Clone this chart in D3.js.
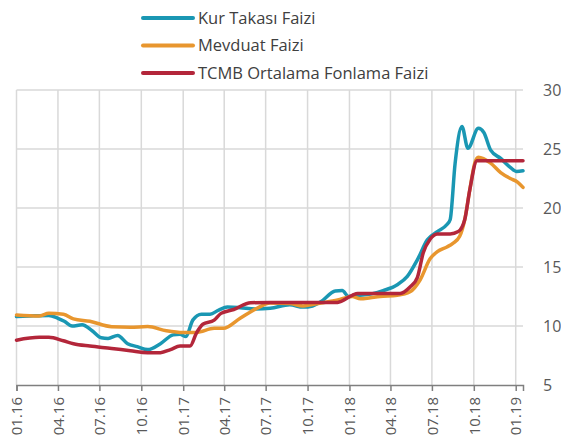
<!DOCTYPE html>
<html><head><meta charset="utf-8">
<script src="https://cdn.jsdelivr.net/npm/d3@7"></script>
<style>body{margin:0;background:#fff}svg{display:block}text{font-family:"Open Sans",sans-serif}</style>
</head><body>
<svg id="c" width="561" height="447"></svg>
<script>
const seriesNames = ["Kur Takası Faizi", "Mevduat Faizi", "TCMB Ortalama Fonlama Faizi"];
const seriesColors = ["#1a97b3", "#e8962e", "#b3263a"];
const yTicks = [5, 10, 15, 20, 25, 30];
const xTickLabels = ["01.16","04.16","07.16","10.16","01.17","04.17","07.17","10.17","01.18","04.18","07.18","10.18","01.19"];

const kurTakasi = [
["2016-01-01",10.8],["2016-01-30",10.85],["2016-03-12",10.9],["2016-04-01",10.65],["2016-04-15",10.4],
["2016-05-02",10.0],["2016-05-24",10.1],["2016-06-15",9.6],["2016-07-05",9.0],["2016-07-20",8.95],
["2016-08-10",9.2],["2016-09-01",8.5],["2016-09-22",8.25],["2016-10-15",8.0],["2016-11-12",8.5],
["2016-12-10",9.25],["2016-12-25",9.3],["2017-01-07",9.1],["2017-01-22",10.5],["2017-02-10",11.0],
["2017-03-01",11.0],["2017-03-20",11.35],["2017-04-08",11.6],["2017-05-06",11.55],["2017-06-08",11.45],
["2017-07-11",11.5],["2017-08-23",11.8],["2017-09-21",11.6],["2017-10-12",11.7],["2017-10-30",12.05],
["2017-12-01",12.97],["2017-12-16",13.0],["2017-12-30",12.5],["2018-01-19",12.6],["2018-02-16",12.7],
["2018-03-16",13.0],["2018-04-16",13.5],["2018-05-08",14.2],["2018-05-30",15.6],["2018-06-21",17.3],
["2018-07-13",18.0],["2018-08-03",18.6],["2018-08-10",19.0],["2018-08-21",23.8],["2018-09-05",26.9],
["2018-09-18",25.06],["2018-10-11",26.75],["2018-10-23",26.4],["2018-11-07",24.9],["2018-11-29",24.2],
["2018-12-20",23.45],["2019-01-03",23.1],["2019-01-17",23.15]];

const mevduat = [
["2016-01-01",10.93],["2016-02-20",10.85],["2016-03-12",11.07],["2016-04-13",11.0],["2016-05-05",10.6],
["2016-06-10",10.4],["2016-07-28",9.94],["2016-09-07",9.9],["2016-10-15",9.95],["2016-11-25",9.6],
["2017-01-01",9.45],["2017-01-30",9.45],["2017-03-10",9.8],["2017-03-30",9.8],["2017-05-06",10.65],
["2017-06-12",11.5],["2017-07-11",11.95],["2017-08-23",11.9],["2017-09-21",11.7],["2017-10-30",11.95],
["2017-12-06",12.2],["2018-01-07",12.5],["2018-01-25",12.3],["2018-02-16",12.4],["2018-03-09",12.5],
["2018-04-16",12.6],["2018-05-14",12.9],["2018-06-05",13.9],["2018-06-27",15.7],["2018-07-13",16.3],
["2018-08-03",16.7],["2018-08-16",17.0],["2018-08-31",17.6],["2018-09-11",19.0],["2018-09-22",21.5],
["2018-10-03",23.8],["2018-10-11",24.3],["2018-11-07",23.8],["2018-11-29",23.0],["2018-12-20",22.5],
["2019-01-05",22.2],["2019-01-17",21.75]];

const tcmb = [
["2016-01-01",8.8],["2016-02-20",9.04],["2016-03-12",9.04],["2016-04-13",8.75],["2016-05-05",8.5],
["2016-06-10",8.3],["2016-07-28",8.1],["2016-09-07",7.9],["2016-10-15",7.74],["2016-11-12",7.74],
["2016-12-04",8.0],["2016-12-25",8.3],["2017-01-16",8.3],["2017-01-30",9.4],["2017-02-13",10.15],
["2017-03-10",10.5],["2017-03-25",11.07],["2017-04-22",11.4],["2017-05-29",11.97],["2017-07-11",12.0],
["2017-12-06",12.0],["2018-01-07",12.6],["2018-01-19",12.75],["2018-04-22",12.75],["2018-05-14",13.3],
["2018-05-30",14.1],["2018-06-12",16.2],["2018-06-27",17.35],["2018-07-13",17.8],["2018-08-10",17.8],
["2018-08-28",18.0],["2018-09-11",19.0],["2018-09-22",21.5],["2018-10-08",24.0],["2019-01-17",24.0]];

const allSeries = [kurTakasi, mevduat, tcmb];
const parse = d3.timeParse("%Y-%m-%d");
const svg = d3.select("#c");
const x = d3.scaleTime().domain([parse("2016-01-01"), parse("2019-01-17")]).range([16.5, 523]);
const y = d3.scaleLinear().domain([5, 30]).range([385, 90]);
const tickDates = xTickLabels.map(s => { const [m, yy] = s.split("."); return new Date(2000 + +yy, +m - 1, 1); });

// grid
svg.append("g").selectAll("line").data(yTicks.filter(v => v > 5)).join("line")
  .attr("x1", 16.5).attr("x2", 523).attr("y1", d => y(d)).attr("y2", d => y(d))
  .attr("stroke", "#d9d9d9").attr("stroke-width", 1.5);
svg.append("g").selectAll("line").data(tickDates).join("line")
  .attr("x1", d => x(d)).attr("x2", d => x(d)).attr("y1", 90).attr("y2", 385)
  .attr("stroke", "#d9d9d9").attr("stroke-width", 1.5);

// x axis
const xa = svg.append("g").attr("transform", "translate(0,385)")
  .call(d3.axisBottom(x).tickValues(tickDates).tickSize(6).tickFormat((d, i) => xTickLabels[i]));
xa.select(".domain").attr("stroke", "#7f7f7f").attr("stroke-width", 1.5);
xa.selectAll(".tick line").attr("stroke", "#7f7f7f").attr("stroke-width", 1.5);
xa.selectAll(".tick text").attr("fill", "#595959").attr("font-size", 15)
  .attr("font-family", "Open Sans, sans-serif")
  .attr("transform", "rotate(-90)").attr("text-anchor", "end").attr("x", -12).attr("y", 0).attr("dy", "0.35em");

// y axis right
const ya = svg.append("g").attr("transform", "translate(523,0)")
  .call(d3.axisRight(y).tickValues(yTicks).tickSize(0).tickPadding(20));
ya.select(".domain").remove();
ya.selectAll(".tick text").attr("fill", "#595959").attr("font-size", 16).attr("font-family", "Open Sans, sans-serif");

// lines
const line = d3.line().x(d => x(parse(d[0]))).y(d => y(d[1])).curve(d3.curveMonotoneX);
allSeries.forEach((s, i) => {
  svg.append("path").datum(s).attr("d", line).attr("fill", "none")
    .attr("stroke", seriesColors[i]).attr("stroke-width", 3.5).attr("stroke-linejoin", "round").attr("stroke-linecap", "round");
});

// legend
const lg = svg.append("g");
seriesNames.forEach((n, i) => {
  const yy = 18 + i * 27.5;
  lg.append("line").attr("x1", 143).attr("x2", 193).attr("y1", yy).attr("y2", yy)
    .attr("stroke", seriesColors[i]).attr("stroke-width", 4).attr("stroke-linecap", "round");
  lg.append("text").attr("x", 198).attr("y", yy).attr("dy", "0.35em").attr("font-size", 16.5)
    .attr("fill", "#404040").text(n);
});
</script>
</body></html>
